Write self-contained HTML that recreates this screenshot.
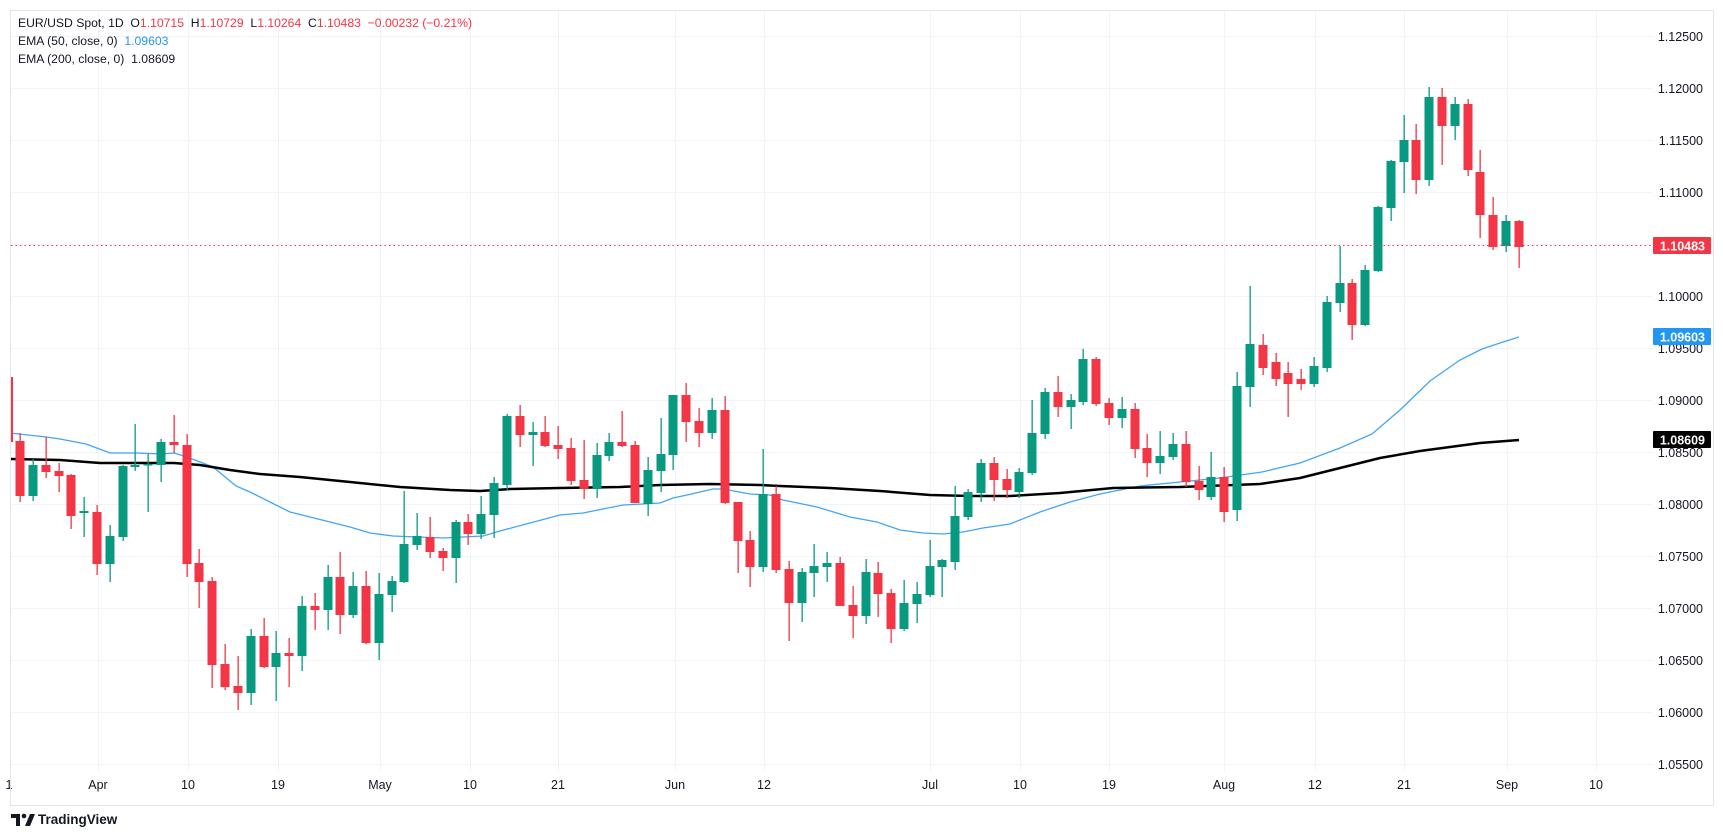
<!DOCTYPE html>
<html><head><meta charset="utf-8"><style>
html,body{margin:0;padding:0;background:#fff;width:1723px;height:835px;overflow:hidden}
svg{display:block;font-family:"Liberation Sans",sans-serif}
</style></head><body>
<svg id="s" width="1723" height="835" xmlns="http://www.w3.org/2000/svg">
<rect x="0" y="0" width="1723" height="835" fill="#fff"/>
<g id="grid"></g>
<g id="ema"></g>
<g id="c"></g>
<g id="lab"></g>
<rect x="10.5" y="10.5" width="1703" height="795" fill="none" stroke="#e0e3eb"/>
<text x="18" y="27" font-size="12.2" fill="#131722" xml:space="preserve">EUR/USD Spot, 1D  O<tspan fill="#f23645">1.10715</tspan>  H<tspan fill="#f23645">1.10729</tspan>  L<tspan fill="#f23645">1.10264</tspan>  C<tspan fill="#f23645">1.10483</tspan>  <tspan fill="#f23645">−0.00232 (−0.21%)</tspan></text>
<text x="18" y="45" font-size="12.2" fill="#131722" xml:space="preserve">EMA (50, close, 0)  <tspan fill="#2196f3">1.09603</tspan></text>
<text x="18" y="63" font-size="12.2" fill="#131722" xml:space="preserve">EMA (200, close, 0)  1.08609</text>
<g transform="translate(11,810)">
<path d="M0 4h9v12h-4v-8h-5z" fill="#131722"/><circle cx="13" cy="6" r="2.3" fill="#131722"/><path d="M14 16l5-12h5l-5 12z" fill="#131722"/>
<text x="27" y="14" font-size="13.5" font-weight="bold" fill="#131722">TradingView</text>
</g>
</svg>
<script>
const NS="http://www.w3.org/2000/svg";
function el(p,t,a,txt){const e=document.createElementNS(NS,t);for(const k in a)e.setAttribute(k,a[k]);if(txt!==undefined)e.textContent=txt;document.getElementById(p).appendChild(e);return e;}
const Y=p=>35.7+(1.125-p)*10400;
for(let k=0;k<=14;k++){const p=1.125-k*0.005;const y=Math.round(Y(p))+0.5;
 el("grid","line",{x1:11,x2:1653,y1:y,y2:y,stroke:"#f0f3fa","stroke-width":1});
 el("lab","text",{x:1703,y:y+4.5,"font-size":"12.5","text-anchor":"end",fill:"#131722"},p.toFixed(5));}
const T=[[9,"1"],[98,"Apr"],[188,"10"],[278,"19"],[380,"May"],[470,"10"],[558,"21"],[675,"Jun"],[764,"12"],[930,"Jul"],[1020,"10"],[1109,"19"],[1224,"Aug"],[1315,"12"],[1404,"21"],[1507,"Sep"],[1596,"10"]];
T.forEach(([x,t])=>{if(x>12)el("grid","line",{x1:x+0.5,x2:x+0.5,y1:11,y2:771,stroke:"#f0f3fa","stroke-width":1});
 el("lab","text",{x:x,y:789,"font-size":"12.5","text-anchor":"middle",fill:"#131722"},t);});
const e50=[[10,433],[46,437],[60,439],[86,444],[110,453],[136,453],[161,454],[174,453],[187,457],[200,462],[213,467],[236,486],[250,492],[290,512],[350,527],[370,533],[393,536],[443,538],[483,536],[500,531],[530,523],[560,515],[583,513],[623,505],[643,504],[660,503],[673,498],[687,495],[713,489],[723,489],[750,494],[770,495],[783,500],[817,507],[850,517],[877,522],[900,530],[923,533],[943,534],[963,532],[983,528],[1010,524],[1040,512],[1070,502],[1100,494],[1140,486],[1180,482],[1220,478],[1262,472],[1300,463],[1340,448],[1372,434],[1400,410],[1430,381],[1460,360],[1482,349],[1500,343],[1519,337]];
const e200=[[10,459],[60,460],[100,463],[174,463],[200,465],[230,470],[260,474],[300,477],[350,482],[400,487],[450,490],[480,491],[510,489],[560,488],[620,487],[660,485],[710,484],[760,485],[780,486],[830,488],[880,491],[930,495],[970,496],[1010,496],[1060,493],[1113,488],[1180,487],[1260,484],[1300,478],[1340,468],[1380,458],[1420,451],[1480,443],[1519,440]];
el("ema","polyline",{points:e50.join(" "),fill:"none",stroke:"#42a5f5","stroke-width":1.3});
el("ema","polyline",{points:e200.join(" "),fill:"none",stroke:"#000","stroke-width":2.5});
const D=[[-6,0,441,496,433,502],[-5,1,465,496,459,501],[-4,0,465,472,437,478],[-3,0,471,476,463,492],[-2,0,475,516,474,529],[-1,1,511,513,497,537],
[0,0,512,564,505,575],[1,1,536,564,525,582],[2,1,466,537,465,541],[3,1,465,467,424,471],[4,1,464,465,454,512],[5,1,442,465,439,482],[6,0,442,445,415,453],[7,0,445,564,434,577],[8,0,563,582,549,608],[9,0,581,665,577,688],
[10,0,664,687,644,690],[11,0,686,693,656,710],[12,1,636,693,629,705],[13,0,636,667,618,668],[14,1,653,667,631,701],[15,0,653,656,638,687],[16,1,606,656,596,671],[17,0,606,610,593,630],[18,1,577,610,565,630],[19,0,577,615,552,634],
[20,1,586,615,572,618],[21,0,586,643,571,644],[22,1,594,643,573,660],[23,1,581,595,576,612],[24,1,544,582,491,583],[25,1,536,545,513,550],[26,0,537,552,517,558],[27,0,551,558,548,571],[28,1,522,558,520,583],[29,0,522,534,514,545],
[30,1,514,534,496,539],[31,1,483,515,477,538],[32,1,416,485,414,490],[33,0,416,435,405,447],[34,1,432,435,422,466],[35,0,432,446,416,447],[36,0,445,449,426,459],[37,0,448,481,438,485],[38,0,480,489,440,499],[39,1,455,489,443,498],
[40,1,442,456,433,461],[41,0,442,446,411,447],[42,0,445,503,441,503],[43,1,470,504,457,516],[44,1,454,471,418,492],[45,1,395,455,395,470],[46,0,395,422,383,442],[47,0,421,433,408,447],[48,1,410,433,398,439],[49,0,410,503,396,504],
[50,0,502,541,502,573],[51,0,540,567,531,587],[52,1,494,567,449,572],[53,0,494,570,486,573],[54,0,569,603,561,641],[55,1,572,603,568,622],[56,1,566,573,544,597],[57,1,563,567,552,582],[58,0,563,606,557,606],[59,0,605,616,586,638],
[60,1,572,616,559,624],[61,0,573,594,562,617],[62,0,593,629,589,643],[63,1,603,629,580,631],[64,1,594,604,582,623],[65,1,566,595,540,597],[66,1,560,567,559,597],[67,1,516,562,486,570],[68,1,492,517,489,520],[69,1,463,493,459,502],
[70,0,463,480,457,501],[71,0,479,490,469,498],[72,1,472,492,468,498],[73,1,433,473,400,475],[74,1,392,434,388,439],[75,0,392,407,376,417],[76,1,400,407,394,429],[77,1,359,402,349,405],[78,0,359,404,357,406],[79,0,403,418,398,425],
[80,1,409,418,397,428],[81,0,409,449,403,458],[82,0,448,463,434,477],[83,1,456,463,431,474],[84,1,444,457,433,460],[85,0,444,482,431,487],[86,0,481,490,466,500],[87,1,477,497,452,500],[88,0,477,512,467,522],[89,1,386,510,372,521],
[90,1,344,387,286,407],[91,0,345,368,334,375],[92,0,362,379,353,386],[93,0,373,384,362,417],[94,0,379,384,369,390],[95,1,366,384,357,387],[96,1,302,368,296,372],[97,1,283,303,246,312],[98,0,283,325,279,340],[99,1,270,325,265,326],
[100,1,207,271,206,272],[101,1,161,208,160,221],[102,1,140,162,115,193],[103,0,140,180,124,194],[104,1,97,180,87,186],[105,0,97,126,88,165],[106,1,104,126,97,140],[107,0,104,170,99,176],[108,0,172,215,150,238],[109,0,215,247,197,250],
[110,1,221,246,215,252],[111,0,221,247,220,268]];
D.forEach(([i,u,bt,bb,h,l])=>{const x=97+12.81*i;const c=u?"#089981":"#f23645";
 el("c","rect",{x:(Math.round(x)-0.5).toFixed(1),y:h,width:1.3,height:Math.max(1,l-h),fill:c});
 el("c","rect",{x:(Math.round(x)-4.5).toFixed(1),y:bt,width:9,height:Math.max(1.5,bb-bt),fill:c});});
el("c","rect",{x:10,y:377,width:3,height:65,fill:"#f23645"});
el("c","line",{x1:11,x2:1653,y1:245.5,y2:245.5,stroke:"#f23645","stroke-width":1,"stroke-dasharray":"1.5,3"});
function tag(y,bg,t){el("lab","rect",{x:1653,y:y-9,width:58,height:17,fill:bg,rx:1});el("lab","text",{x:1705,y:y+4.5,"font-size":"12.5","font-weight":"bold","text-anchor":"end",fill:"#fff"},t);}
tag(246,"#f23645","1.10483");tag(337,"#2196f3","1.09603");tag(440,"#000","1.08609");
</script>
</body></html>
